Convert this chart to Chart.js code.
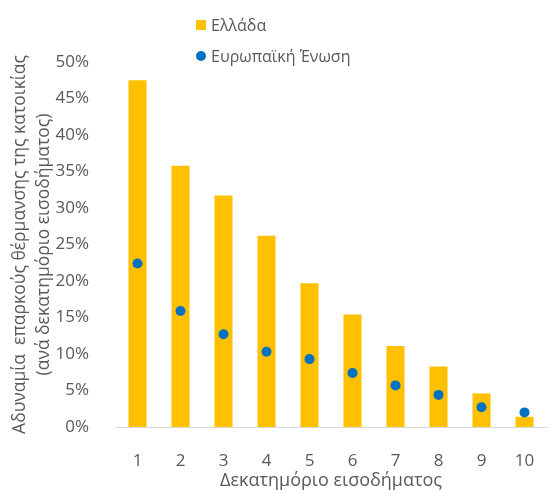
<html>

<head>
    <title>Heating</title>
    <script src="https://cdn.jsdelivr.net/npm/chart.js@4.4.1/dist/chart.umd.min.js"></script>
    <style>
        body { margin: 0; background: #fff; }
        #wrap { position: relative; width: 551px; height: 491px; }
        #legend {
            position: absolute; left: 196px; top: 14px;
            font: 16px 'Open Sans', sans-serif; color: #595959;
        }
        .item { display: flex; align-items: center; height: 22px; margin-bottom: 8.5px; }
        .swatch { width: 10px; height: 10px; margin-right: 5px; }
    </style>
</head>

<body>
    <div id="wrap">
        <canvas id="chartCanvas" width="551" height="491"></canvas>
        <div id="legend"></div>
    </div>

    <script>
        const deciles = ['1', '2', '3', '4', '5', '6', '7', '8', '9', '10']
        const greece = [47.5, 35.8, 31.7, 26.2, 19.7, 15.4, 11.1, 8.3, 4.6, 1.4]
        const eu = [22.4, 15.9, 12.7, 10.3, 9.3, 7.4, 5.7, 4.4, 2.7, 2.0]
        const yTicks = [0, 5, 10, 15, 20, 25, 30, 35, 40, 45, 50]

        const textColor = '#595959'
        const family = "'Open Sans', sans-serif"
        const tickFont = { family, size: 17 }

        const chart = new Chart(document.getElementById('chartCanvas'), {
            data: {
                labels: deciles,
                datasets: [
                    {
                        type: 'line',
                        label: 'Ευρωπαϊκή Ένωση',
                        data: eu,
                        showLine: false,
                        pointRadius: 5,
                        pointBackgroundColor: '#0070C0',
                        pointBorderWidth: 0,
                        backgroundColor: '#0070C0',
                        order: 1,
                    },
                    {
                        type: 'bar',
                        label: 'Ελλάδα',
                        data: greece,
                        backgroundColor: '#FFC000',
                        barPercentage: 0.42,
                        categoryPercentage: 1,
                        order: 2,
                    },
                ],
            },
            options: {
                responsive: false,
                animation: false,
                layout: { padding: { top: 62, right: 1, left: 0, bottom: 0 } },
                plugins: { legend: { display: false }, tooltip: { enabled: false } },
                scales: {
                    x: {
                        grid: { display: false },
                        border: { display: true, color: '#D9D9D9', width: 1 },
                        ticks: { color: textColor, font: tickFont, padding: 16 },
                        title: {
                            display: true,
                            text: 'Δεκατημόριο εισοδήματος',
                            color: textColor,
                            font: { family, size: 18, lineHeight: 1 },
                            padding: { top: 0, bottom: 1 },
                        },
                        afterFit: s => { s.height = 64 },
                    },
                    y: {
                        min: 0,
                        max: 50,
                        afterBuildTicks: s => { s.ticks = yTicks.map(v => ({ value: v })) },
                        grid: { display: false },
                        border: { display: false },
                        ticks: { color: textColor, font: tickFont, padding: 19, callback: v => v + '%' },
                        title: {
                            display: true,
                            text: ['Αδυναμία  επαρκούς θέρμανσης της κατοικίας', '(ανά δεκατημόριο εισοδήματος)'],
                            color: textColor,
                            font: { family, size: 17.5, lineHeight: 1.37 },
                            padding: { top: 8, bottom: 0 },
                        },
                        afterFit: s => { s.width = 116 },
                    },
                },
            },
        })

        // legend: bars first, then points, stacked
        const legend = document.getElementById('legend')
        const items = [chart.data.datasets[1], chart.data.datasets[0]]
        items.forEach(ds => {
            const row = document.createElement('div')
            row.className = 'item'
            const sw = document.createElement('span')
            sw.className = 'swatch'
            sw.style.background = ds.backgroundColor
            if (ds.type === 'line') sw.style.borderRadius = '50%'
            const label = document.createElement('span')
            label.textContent = ds.label
            row.appendChild(sw)
            row.appendChild(label)
            legend.appendChild(row)
        })
    </script>
</body>

</html>
